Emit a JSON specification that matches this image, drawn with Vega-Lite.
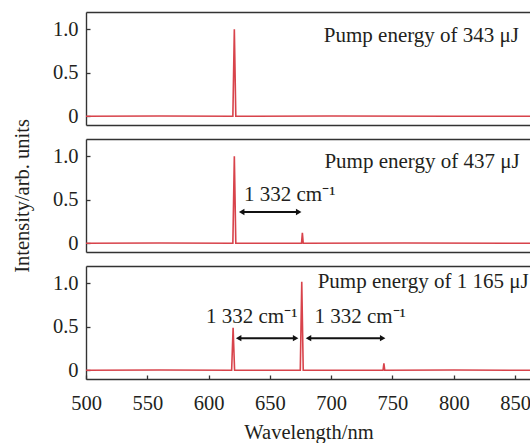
{
  "$schema": "https://vega.github.io/schema/vega-lite/v6.json",
  "padding": {"left": 12, "top": 12, "right": 0, "bottom": 0},
  "spacing": 14,
  "bounds": "flush",
  "background": "white",
  "datasets": {
    "s343": [
      {"x": 500, "y": 0.0}, {"x": 560, "y": 0.004}, {"x": 619.8, "y": 0.0}, {"x": 621, "y": 1.0}, {"x": 622.2, "y": 0.0},
      {"x": 700, "y": 0.004}, {"x": 800, "y": 0.0}, {"x": 863, "y": 0.0}
    ],
    "s437": [
      {"x": 500, "y": 0.0}, {"x": 560, "y": 0.004}, {"x": 619.8, "y": 0.0}, {"x": 621, "y": 1.0}, {"x": 622.2, "y": 0.0},
      {"x": 675.8, "y": 0.0}, {"x": 676.5, "y": 0.12}, {"x": 677.2, "y": 0.0},
      {"x": 760, "y": 0.004}, {"x": 863, "y": 0.0}
    ],
    "s1165": [
      {"x": 500, "y": 0.0}, {"x": 560, "y": 0.004}, {"x": 618.8, "y": 0.0}, {"x": 620, "y": 0.49}, {"x": 621.2, "y": 0.0},
      {"x": 674.8, "y": 0.0}, {"x": 676, "y": 1.02}, {"x": 677.2, "y": 0.0},
      {"x": 742.3, "y": 0.0}, {"x": 743, "y": 0.08}, {"x": 743.7, "y": 0.0},
      {"x": 800, "y": 0.004}, {"x": 863, "y": 0.0}
    ],
    "notes": [
      {"panel": "343", "x": 694, "y": 0.92, "label": "Pump energy of 343 μJ"},
      {"panel": "437", "x": 694.5, "y": 0.93, "label": "Pump energy of 437 μJ"},
      {"panel": "437", "x": 628.9, "y": 0.56, "label": "1 332 cm⁻¹"},
      {"panel": "1165", "x": 689, "y": 1.02, "label": "Pump energy of 1 165 μJ"},
      {"panel": "1165", "x": 597.9, "y": 0.61, "label": "1 332 cm⁻¹"},
      {"panel": "1165", "x": 686.3, "y": 0.61, "label": "1 332 cm⁻¹"}
    ],
    "arrows": [
      {"panel": "437", "x1": 627, "x2": 673.5, "y": 0.36},
      {"panel": "1165", "x1": 624.5, "x2": 671, "y": 0.37},
      {"panel": "1165", "x1": 681.5, "x2": 742, "y": 0.37}
    ]
  },
  "vconcat": [
    {
      "width": 445, "height": 113,
      "layer": [
        {
          "data": {"name": "s343"},
          "mark": {"type": "line", "color": "#d8434b", "strokeWidth": 1.6, "clip": true},
          "encoding": {
            "x": {"field": "x", "type": "quantitative", "scale": {"domain": [500, 863], "nice": false, "zero": false},
                  "axis": {"orient": "bottom", "labels": false, "ticks": false, "title": null}},
            "y": {"field": "y", "type": "quantitative", "scale": {"domain": [-0.1, 1.2], "nice": false, "zero": false},
                  "axis": {"values": [0, 0.5, 1], "labelExpr": "datum.value == 0 ? '0' : format(datum.value, '.1f')", "title": null}}
          }
        },
        {
          "data": {"name": "notes"},
          "transform": [{"filter": "datum.panel == '343'"}],
          "mark": {"type": "text", "align": "left", "baseline": "middle", "fontSize": 21, "font": "Liberation Serif", "color": "#231f20"},
          "encoding": {
            "x": {"field": "x", "type": "quantitative", "axis": {"orient": "top", "labels": false, "ticks": false, "title": null}},
            "y": {"field": "y", "type": "quantitative"},
            "text": {"field": "label"}
          }
        }
      ],
      "resolve": {"axis": {"x": "independent"}}
    },
    {
      "width": 445, "height": 113,
      "layer": [
        {
          "data": {"name": "s437"},
          "mark": {"type": "line", "color": "#d8434b", "strokeWidth": 1.6, "clip": true},
          "encoding": {
            "x": {"field": "x", "type": "quantitative", "scale": {"domain": [500, 863], "nice": false, "zero": false},
                  "axis": {"orient": "bottom", "labels": false, "ticks": false, "title": null}},
            "y": {"field": "y", "type": "quantitative", "scale": {"domain": [-0.1, 1.2], "nice": false, "zero": false},
                  "axis": {"values": [0, 0.5, 1], "labelExpr": "datum.value == 0 ? '0' : format(datum.value, '.1f')", "title": "Intensity/arb. units", "titlePadding": 20}}
          }
        },
        {
          "data": {"name": "notes"},
          "transform": [{"filter": "datum.panel == '437'"}],
          "mark": {"type": "text", "align": "left", "baseline": "middle", "fontSize": 21, "font": "Liberation Serif", "color": "#231f20"},
          "encoding": {
            "x": {"field": "x", "type": "quantitative", "axis": {"orient": "top", "labels": false, "ticks": false, "title": null}},
            "y": {"field": "y", "type": "quantitative"},
            "text": {"field": "label"}
          }
        },
        {
          "data": {"name": "arrows"},
          "transform": [{"filter": "datum.panel == '437'"}],
          "mark": {"type": "rule", "color": "#111", "strokeWidth": 2},
          "encoding": {
            "x": {"field": "x1", "type": "quantitative", "axis": null},
            "x2": {"field": "x2"},
            "y": {"field": "y", "type": "quantitative"}
          }
        },
        {
          "data": {"name": "arrows"},
          "transform": [{"filter": "datum.panel == '437'"}],
          "mark": {"type": "point", "shape": "triangle-left", "filled": true, "color": "#111", "size": 40, "opacity": 1},
          "encoding": {
            "x": {"field": "x1", "type": "quantitative", "axis": null},
            "y": {"field": "y", "type": "quantitative"}
          }
        },
        {
          "data": {"name": "arrows"},
          "transform": [{"filter": "datum.panel == '437'"}],
          "mark": {"type": "point", "shape": "triangle-right", "filled": true, "color": "#111", "size": 40, "opacity": 1},
          "encoding": {
            "x": {"field": "x2", "type": "quantitative", "axis": null},
            "y": {"field": "y", "type": "quantitative"}
          }
        }
      ],
      "resolve": {"axis": {"x": "independent"}}
    },
    {
      "width": 445, "height": 113,
      "layer": [
        {
          "data": {"name": "s1165"},
          "mark": {"type": "line", "color": "#d8434b", "strokeWidth": 1.6, "clip": true},
          "encoding": {
            "x": {"field": "x", "type": "quantitative", "scale": {"domain": [500, 863], "nice": false, "zero": false},
                  "axis": {"orient": "bottom", "values": [500, 550, 600, 650, 700, 750, 800, 850], "labelFlush": false, "labelOverlap": false, "title": "Wavelength/nm", "labelPadding": 18, "titlePadding": 9}},
            "y": {"field": "y", "type": "quantitative", "scale": {"domain": [-0.1, 1.2], "nice": false, "zero": false},
                  "axis": {"values": [0, 0.5, 1], "labelExpr": "datum.value == 0 ? '0' : format(datum.value, '.1f')", "title": null}}
          }
        },
        {
          "data": {"name": "notes"},
          "transform": [{"filter": "datum.panel == '1165'"}],
          "mark": {"type": "text", "align": "left", "baseline": "middle", "fontSize": 21, "font": "Liberation Serif", "color": "#231f20"},
          "encoding": {
            "x": {"field": "x", "type": "quantitative", "axis": {"orient": "top", "labels": false, "ticks": false, "title": null}},
            "y": {"field": "y", "type": "quantitative"},
            "text": {"field": "label"}
          }
        },
        {
          "data": {"name": "arrows"},
          "transform": [{"filter": "datum.panel == '1165'"}],
          "mark": {"type": "rule", "color": "#111", "strokeWidth": 2},
          "encoding": {
            "x": {"field": "x1", "type": "quantitative", "axis": null},
            "x2": {"field": "x2"},
            "y": {"field": "y", "type": "quantitative"}
          }
        },
        {
          "data": {"name": "arrows"},
          "transform": [{"filter": "datum.panel == '1165'"}],
          "mark": {"type": "point", "shape": "triangle-left", "filled": true, "color": "#111", "size": 40, "opacity": 1},
          "encoding": {
            "x": {"field": "x1", "type": "quantitative", "axis": null},
            "y": {"field": "y", "type": "quantitative"}
          }
        },
        {
          "data": {"name": "arrows"},
          "transform": [{"filter": "datum.panel == '1165'"}],
          "mark": {"type": "point", "shape": "triangle-right", "filled": true, "color": "#111", "size": 40, "opacity": 1},
          "encoding": {
            "x": {"field": "x2", "type": "quantitative", "axis": null},
            "y": {"field": "y", "type": "quantitative"}
          }
        }
      ],
      "resolve": {"axis": {"x": "independent"}}
    }
  ],
  "config": {
    "font": "Liberation Serif",
    "view": {"stroke": null},
    "axis": {
      "grid": false,
      "labelFont": "Liberation Serif", "labelFontSize": 20.5, "labelColor": "#231f20",
      "titleFont": "Liberation Serif", "titleFontSize": 20.5, "titleFontWeight": "normal", "titleColor": "#231f20",
      "domainColor": "#333333", "domainWidth": 1.4,
      "tickColor": "#333333", "tickWidth": 1.3, "tickSize": -4,
      "labelPadding": 12
    }
  }
}
